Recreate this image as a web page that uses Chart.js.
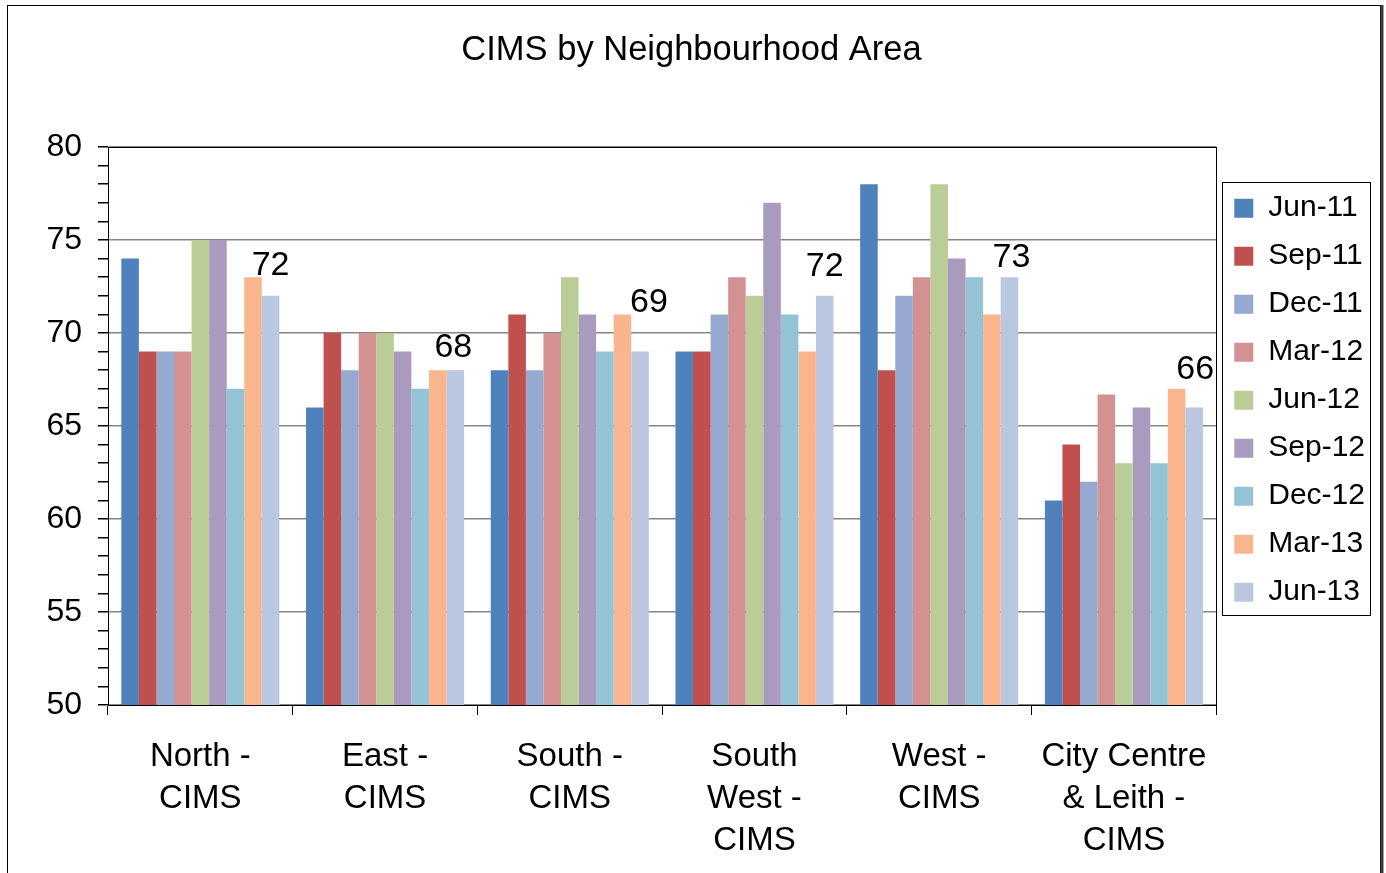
<!DOCTYPE html>
<html>
<head>
<meta charset="utf-8">
<script src="https://cdn.jsdelivr.net/npm/chart.js@4.4.1/dist/chart.umd.min.js"></script>
<style>
  html, body { margin: 0; padding: 0; background: #fff; }
  #wrap { width: 1386px; height: 873px; }
</style>
</head>
<body>
<div id="wrap"><canvas id="cimsChart" width="1386" height="873"></canvas></div>
<script>
// CIMS by Neighbourhood Area - grouped bars, one series per quarter
const categories = [
    ['North -', 'CIMS'],
    ['East -', 'CIMS'],
    ['South -', 'CIMS'],
    ['South', 'West -', 'CIMS'],
    ['West -', 'CIMS'],
    ['City Centre', '& Leith -', 'CIMS']
];
const seriesLabels = ['Jun-11', 'Sep-11', 'Dec-11', 'Mar-12', 'Jun-12', 'Sep-12', 'Dec-12', 'Mar-13', 'Jun-13'];
const jun11 = [74, 66, 68, 69, 78, 61];
const sep11 = [69, 70, 71, 69, 68, 64];
const dec11 = [69, 68, 68, 71, 72, 62];
const mar12 = [69, 70, 70, 73, 73, 66.7];
const jun12 = [75, 70, 73, 72, 78, 63];
const sep12 = [75, 69, 71, 77, 74, 66];
const dec12 = [67, 67, 69, 71, 73, 63];
const mar13 = [73, 68, 71, 69, 71, 67];
const jun13 = [72, 68, 69, 72, 73, 66];
const seriesColors = ['#4F81BD', '#C0504D', '#95A9D1', '#D39291', '#BBCD96', '#A99BBF', '#94C3D5', '#F9B68E', '#BAC7E1'];
const yMin = 50, yMax = 80, yMajor = 5;

// the value labels on Jun-13 were nudged by hand in the original (px)
const labelNudgeX = [0, -2, 9, 0, 2, 1];
const labelGap = [21, 13, 40, 20, 10, 28];

const FONT = '"Liberation Sans", Arial, sans-serif';
const allSeries = [jun11, sep11, dec11, mar12, jun12, sep12, dec12, mar13, jun13];

// outer frame, plot frame and legend frame
const framePlugin = {
    id: 'frames',
    afterDraw(chart) {
        const ctx = chart.ctx;
        const a = chart.chartArea;
        ctx.save();
        ctx.strokeStyle = '#000';
        ctx.lineWidth = 1;
        ctx.strokeRect(7.5, 5.5, 1373, 900);
        ctx.strokeStyle = '#3a3a3a';
        ctx.lineWidth = 3;
        ctx.beginPath();
        ctx.moveTo(1382, 5);
        ctx.lineTo(1382, 873);
        ctx.stroke();
        ctx.strokeStyle = '#000';
        ctx.lineWidth = 1;
        ctx.strokeRect(Math.round(a.left) + 0.5, Math.round(a.top) + 0.5, Math.round(a.right - a.left), Math.round(a.bottom - a.top));

        const lg = chart.legend;
        const hb = lg.legendHitBoxes;
        if (hb && hb.length) {
            const first = hb[0], last = hb[hb.length - 1];
            const top = first.top + first.height / 2 - 26;
            const bottom = last.top + last.height / 2 + 23;
            const left = lg.left + 6;
            let right = 0;
            hb.forEach(h => { right = Math.max(right, h.left + h.width); });
            right += 5;
            ctx.strokeRect(Math.round(left) + 0.5, Math.round(top) + 0.5, Math.round(right - left), Math.round(bottom - top));
        }
        ctx.restore();
    }
};

// value labels on the last series only
const labelPlugin = {
    id: 'lastSeriesLabels',
    afterDatasetsDraw(chart) {
        const ctx = chart.ctx;
        const idx = chart.data.datasets.length - 1;
        const meta = chart.getDatasetMeta(idx);
        ctx.save();
        ctx.font = '34px ' + FONT;
        ctx.fillStyle = '#000';
        ctx.textAlign = 'center';
        ctx.textBaseline = 'alphabetic';
        meta.data.forEach((bar, i) => {
            ctx.fillText(String(chart.data.datasets[idx].data[i]), bar.x + labelNudgeX[i], bar.y - labelGap[i]);
        });
        ctx.restore();
    }
};

new Chart(document.getElementById('cimsChart'), {
    type: 'bar',
    data: {
        labels: categories,
        datasets: seriesLabels.map((name, i) => ({
            label: name,
            data: allSeries[i],
            backgroundColor: seriesColors[i],
            borderWidth: 0,
            categoryPercentage: 0.8556,
            barPercentage: 1
        }))
    },
    options: {
        responsive: false,
        animation: false,
        devicePixelRatio: 1,
        layout: { padding: { left: 8, right: 11, top: 0, bottom: 0 } },
        plugins: {
            title: {
                display: true,
                text: 'CIMS by Neighbourhood Area',
                color: '#000',
                font: { family: FONT, size: 34.5, weight: 'normal', lineHeight: 1.2 },
                padding: { top: 30, bottom: 75.6 }
            },
            legend: {
                position: 'right',
                fullSize: false,
                align: 'start',
                title: { display: true, text: '', font: { size: 1, lineHeight: 1.2 }, padding: { top: 27, bottom: 0 } },
                labels: {
                    color: '#000',
                    font: { family: FONT, size: 30, lineHeight: 0.987 },
                    boxWidth: 19,
                    boxHeight: 19,
                    padding: 18
                }
            },
            tooltip: { enabled: false }
        },
        scales: {
            x: {
                border: { color: '#000', width: 1 },
                grid: { offset: true, drawOnChartArea: false, tickLength: 10, tickColor: '#000' },
                ticks: {
                    color: '#000',
                    font: { family: FONT, size: 33, lineHeight: 1.27 },
                    maxRotation: 0,
                    autoSkip: false,
                    padding: 21
                },
                afterFit(scale) { scale.height = 168; }
            },
            y: {
                min: yMin,
                max: yMax,
                border: { color: '#000', width: 1 },
                grid: {
                    color: ctx => (ctx.tick && ctx.tick.value % yMajor === 0) ? '#868686' : 'rgba(0,0,0,0)',
                    tickColor: '#000',
                    tickLength: 10,
                    lineWidth: 1.5
                },
                ticks: {
                    stepSize: 1,
                    autoSkip: false,
                    color: '#000',
                    font: { family: FONT, size: 32 },
                    padding: 16,
                    callback: v => (v % yMajor === 0 ? v : '')
                },
                afterFit(scale) { scale.width = 100; }
            }
        }
    },
    plugins: [framePlugin, labelPlugin]
});
</script>
</body>
</html>
